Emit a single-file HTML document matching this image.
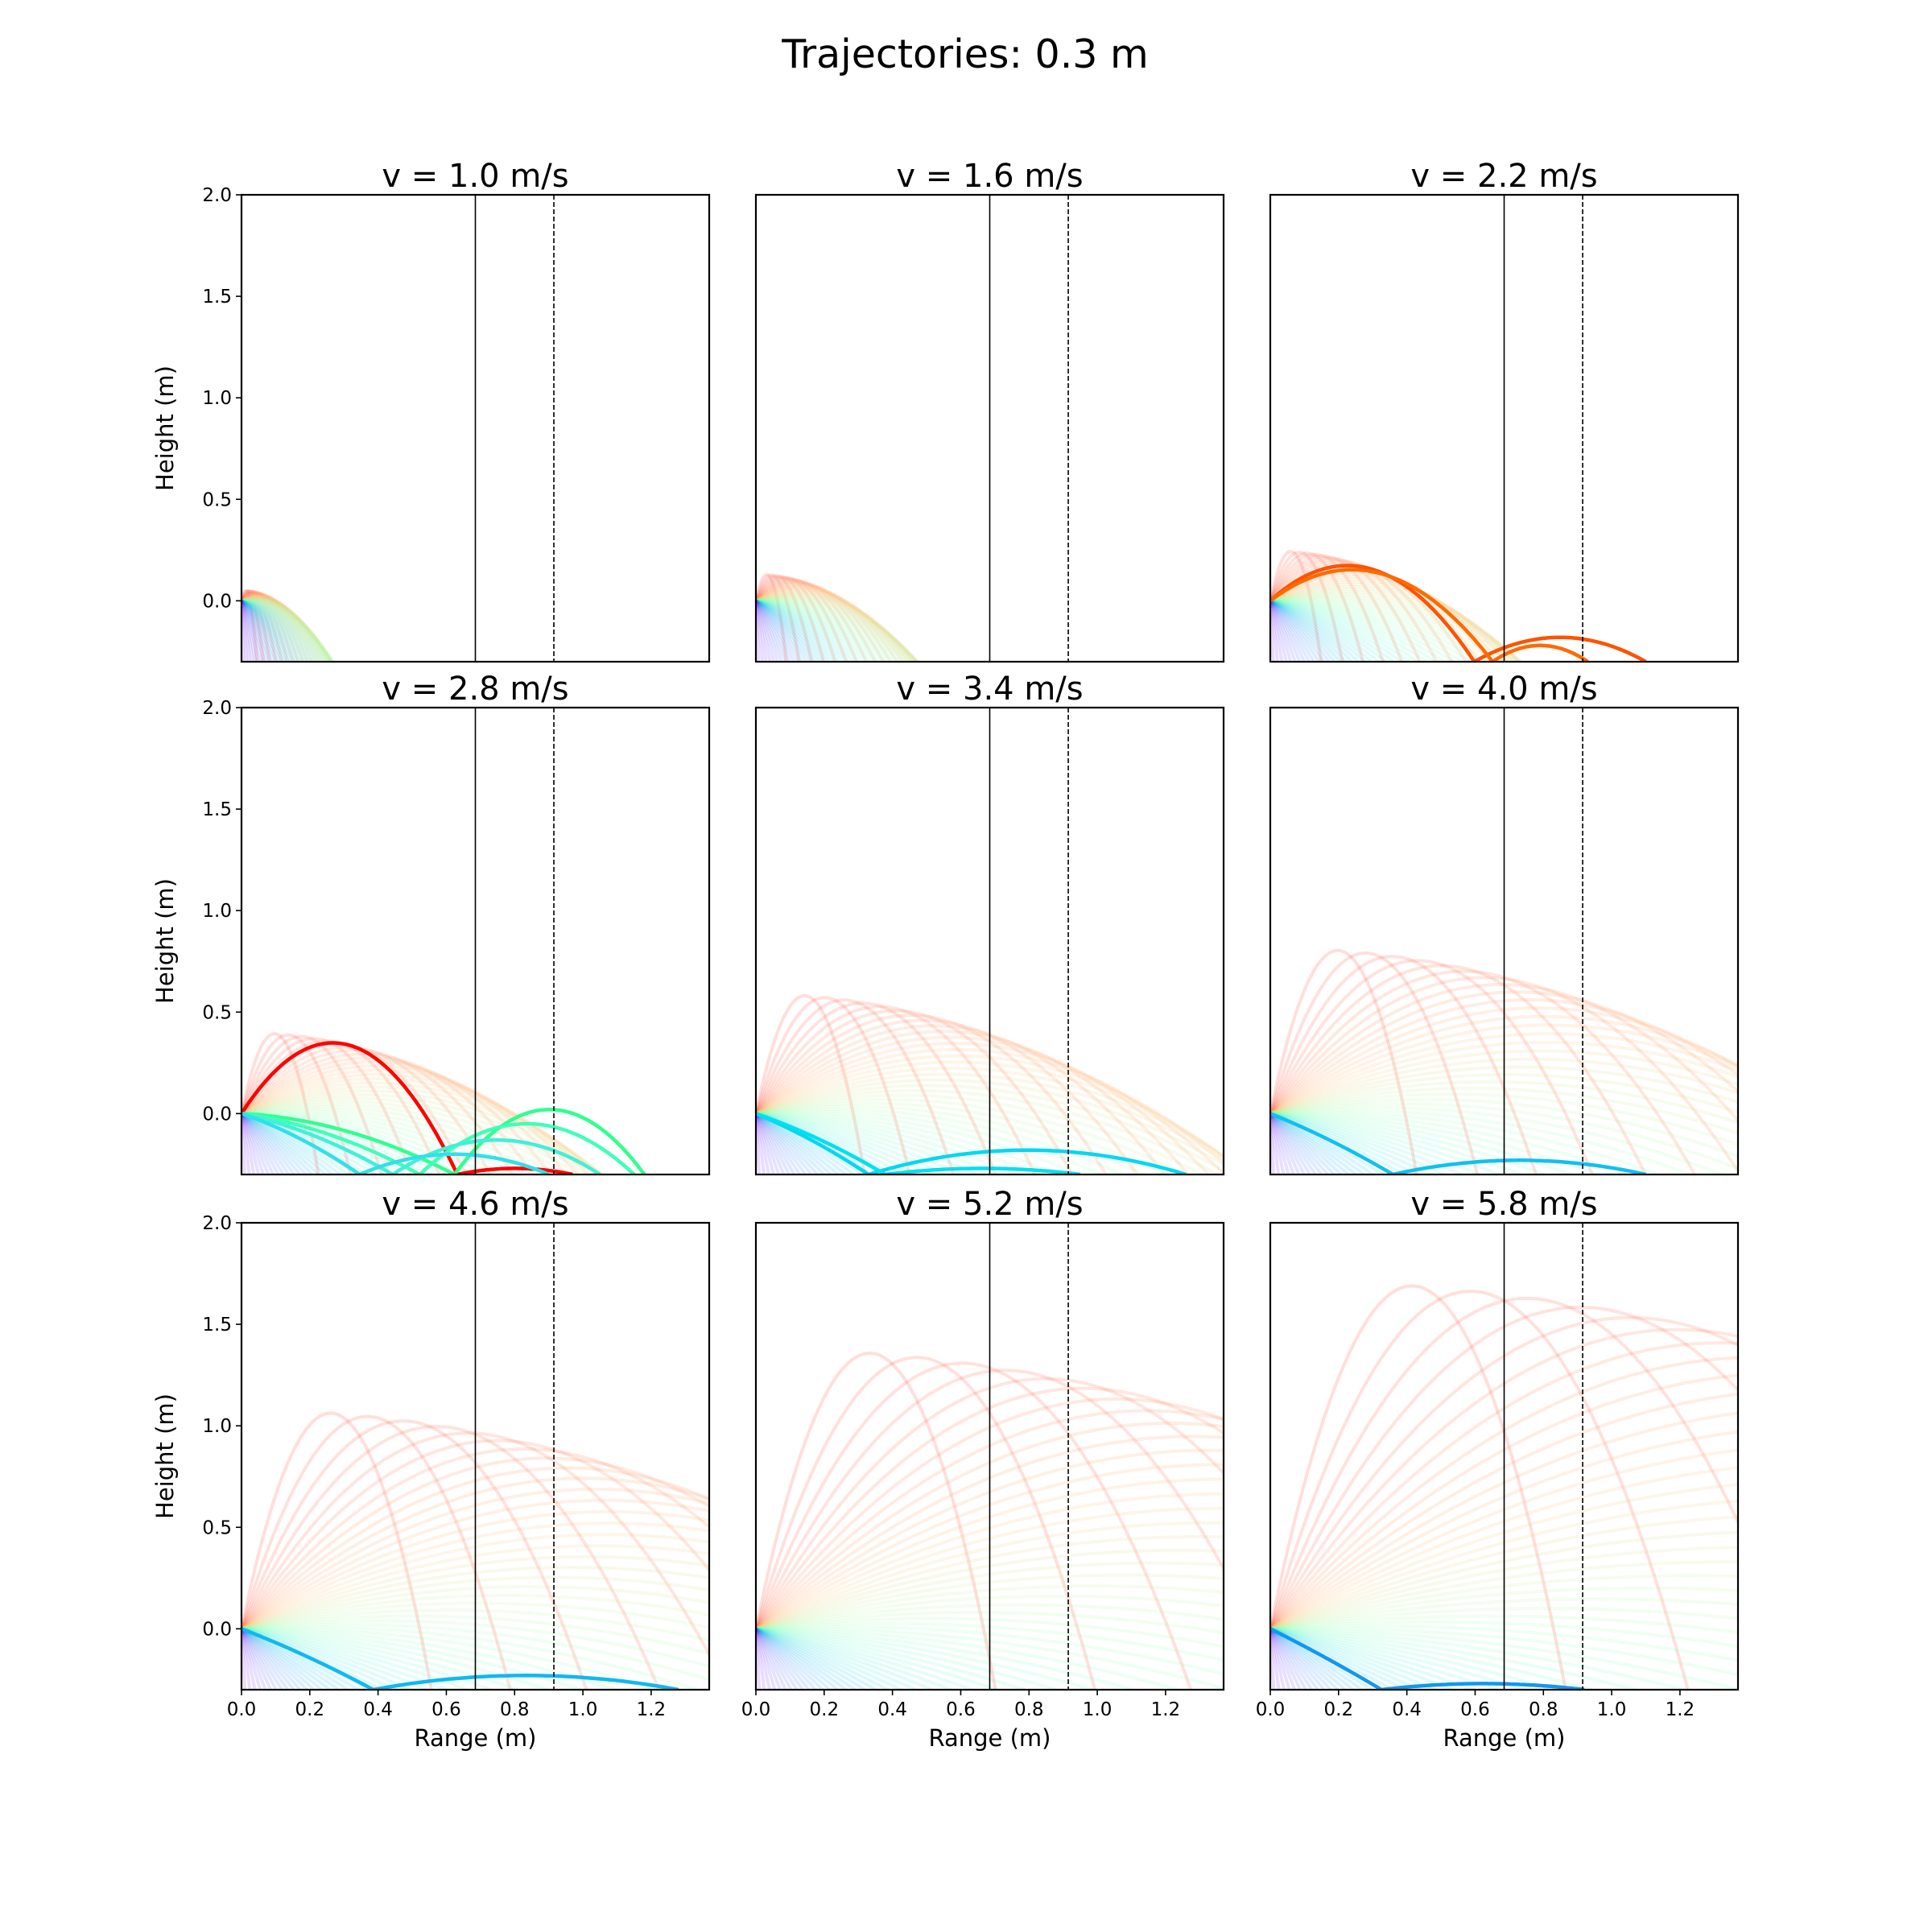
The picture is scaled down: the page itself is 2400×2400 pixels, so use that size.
<!DOCTYPE html>
<html><head><meta charset="utf-8"><style>
body{margin:0;background:#fff}
svg{display:block;font-family:"DejaVu Sans","Liberation Sans",sans-serif}
</style></head><body>
<svg id="fig" width="2400" height="2400" viewBox="0 0 2400 2400">
<rect width="2400" height="2400" fill="#fff"/>
<text x="1199" y="84" font-size="49" text-anchor="middle">Trajectories: 0.3 m</text>
</svg>
<script>
const velocities = [1.0, 1.6, 2.2, 2.8, 3.4, 4.0, 4.6, 5.2, 5.8];
const angles = [83,80,77,74,71,68,65,62,59,56,53,50,47,44,41,38,35,32,29,26,23,20,17,14,11,8,5,2,-1,-4,-7,-10,-13,-16,-19,-22,-25,-28,-31,-34,-37,-40,-43,-46,-49,-52,-55,-58,-61,-64,-67,-70,-73,-76,-79,-82,-85,-88];
const hlAngles = [[], [], [57, 52], [69, -5, -13, -20, -30], [-35, -30], [-34], [-33], [], [-40]];
const hlColors = [[], [], ['#ff5200', '#ff6a00'], ['#ff0000', '#30ff90', '#40ffb8', '#40f0d8', '#30e0e8'], ['#00d8f0', '#00e0f0'], ['#10c0f0'], ['#10b8f0'], [], ['#1098f0']];
const hlBounceHeights = [[], [], [0.12, 0.08], [0.03, 0.32, 0.25, 0.17, 0.10], [0.12, 0.03], [0.07], [0.07], [], [0.03]];
const hlBounceEnds = [[], [], [1.1, 0.93], [0.97, 1.18, 1.15, 1.05, 0.9], [1.26, 0.95], [1.1], [1.28], [], [0.92]];
const xTicks = [0.0, 0.2, 0.4, 0.6, 0.8, 1.0, 1.2];
const yTicks = [0.0, 0.5, 1.0, 1.5, 2.0];
const xMin = 0, xMax = 1.37, yMin = -0.3, yMax = 2.0;
const solidLineX = 0.685, dashedLineX = 0.915;
const g = 9.81, floorY = -0.3;

const NS = "http://www.w3.org/2000/svg";
const fig = document.getElementById('fig');
const colLeft = [300, 939, 1578], rowTop = [242, 879, 1519], W = 581, H = 580;

function mk(tag, attrs, parent) {
  const e = document.createElementNS(NS, tag);
  for (const k in attrs) e.setAttribute(k, attrs[k]);
  parent.appendChild(e);
  return e;
}
function rainbow(t) {
  const c = v => Math.max(0, Math.min(1, v));
  const r = c(Math.abs(2 * t - 0.5)), gg = c(Math.sin(Math.PI * t)), b = c(Math.abs(Math.cos(Math.PI * t / 2)));
  return `rgb(${Math.round(r*255)},${Math.round(gg*255)},${Math.round(b*255)})`;
}
function flight(v, ang) {
  const vx = v * Math.cos(ang * Math.PI / 180), vy = v * Math.sin(ang * Math.PI / 180);
  const tEnd = (vy + Math.sqrt(vy * vy - 2 * g * floorY)) / g;
  const pts = [];
  const n = 100;
  for (let i = 0; i <= n; i++) {
    const t = tEnd * i / n;
    pts.push([vx * t, vy * t - g * t * t / 2]);
  }
  return pts;
}
function bounce(x0, hb, xe) {
  const vy = Math.sqrt(2 * g * hb), tEnd = 2 * vy / g, vx = (xe - x0) / tEnd;
  const pts = [];
  for (let i = 1; i <= 60; i++) {
    const t = tEnd * i / 60;
    pts.push([x0 + vx * t, floorY + vy * t - g * t * t / 2]);
  }
  return pts;
}

velocities.forEach((v, idx) => {
  const r = Math.floor(idx / 3), c = idx % 3;
  const L = colLeft[c], T = rowTop[r];
  const sx = x => L + (x - xMin) / (xMax - xMin) * W;
  const sy = y => T + (yMax - y) / (yMax - yMin) * H;
  const toD = pts => 'M' + pts.map(q => sx(q[0]).toFixed(1) + ',' + sy(q[1]).toFixed(1)).join('L');
  const gp = mk('g', {}, fig);
  
  
  const clipId = 'clip' + idx;
  const cp = mk('clipPath', {id: clipId}, gp);
  mk('rect', {x: L, y: T, width: W, height: H}, cp);
  const plot = mk('g', {'clip-path': `url(#${clipId})`}, gp);
  angles.forEach(a => {
    const p = mk('path', {d: toD(flight(v, a)), fill: 'none', stroke: rainbow((a + 90) / 180), 'stroke-width': 4, 'stroke-opacity': 0.15}, plot);
    
    
  });
  hlAngles[idx].forEach((a, j) => {
    const pts = flight(v, a);
    const last = pts[pts.length - 1];
    const all = pts.concat(bounce(last[0], hlBounceHeights[idx][j], hlBounceEnds[idx][j]));
    const p = mk('path', {d: toD(all), fill: 'none', stroke: hlColors[idx][j], 'stroke-width': 4.5}, plot);
    
    
  });
  const sl = mk('line', {x1: sx(solidLineX), x2: sx(solidLineX), y1: T, y2: T + H, stroke: '#000', 'stroke-width': 1.6}, gp);
  
  
  const dl = mk('line', {x1: sx(dashedLineX), x2: sx(dashedLineX), y1: T, y2: T + H, stroke: '#000', 'stroke-width': 1.6, 'stroke-dasharray': '6,3'}, gp);
  
  
  const fr = mk('rect', {x: L, y: T, width: W, height: H, fill: 'none', stroke: '#000', 'stroke-width': 2.2}, gp);
  
  
  const tt = mk('text', {x: L + W / 2, y: T - 10, 'font-size': 40, 'text-anchor': 'middle'}, gp);
  tt.textContent = 'v = ' + v.toFixed(1) + ' m/s';
  
  
  if (c === 0) {
    yTicks.forEach(yt => {
      mk('line', {x1: L - 7, x2: L, y1: sy(yt), y2: sy(yt), stroke: '#000', 'stroke-width': 1.6}, gp);
      const t = mk('text', {x: L - 12, y: sy(yt) + 8, 'font-size': 23, 'text-anchor': 'end'}, gp);
      t.textContent = yt.toFixed(1);
      
      
    });
    const yl = mk('text', {x: 0, y: 0, 'font-size': 29, 'text-anchor': 'middle', transform: `translate(${L - 85},${T + H / 2}) rotate(-90)`}, gp);
    yl.textContent = 'Height (m)';
    
    
  }
  if (r === 2) {
    xTicks.forEach(xt => {
      mk('line', {x1: sx(xt), x2: sx(xt), y1: T + H, y2: T + H + 7, stroke: '#000', 'stroke-width': 1.6}, gp);
      const t = mk('text', {x: sx(xt), y: T + H + 32, 'font-size': 23, 'text-anchor': 'middle'}, gp);
      t.textContent = xt.toFixed(1);
      
      
    });
    const xl = mk('text', {x: L + W / 2, y: T + H + 70, 'font-size': 29, 'text-anchor': 'middle'}, gp);
    xl.textContent = 'Range (m)';
    
    
  }
});
</script>
</body></html>
